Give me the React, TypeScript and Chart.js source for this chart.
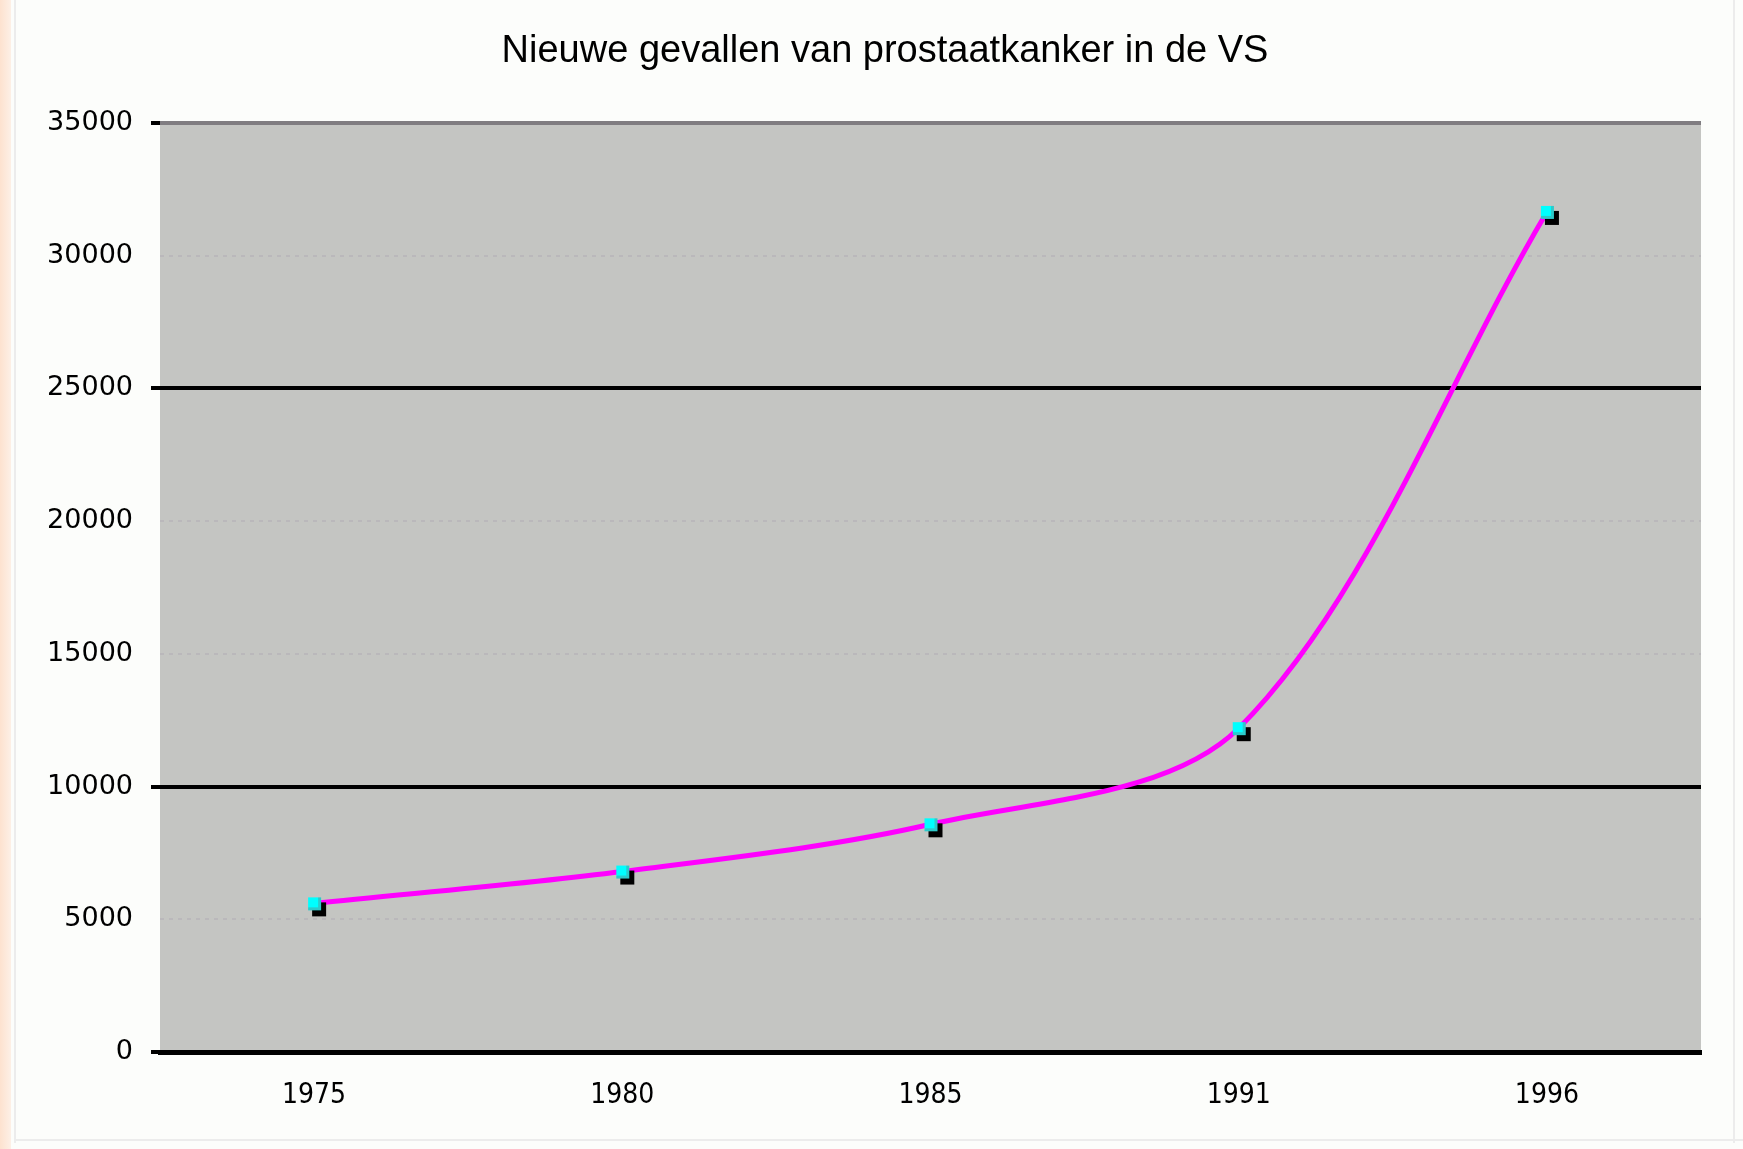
import React, { useEffect, useRef } from "react";
import { Chart, registerables } from "chart.js";

Chart.register(...registerables);

const chartTitle = "Nieuwe gevallen van prostaatkanker in de VS";
const years = ["1975", "1980", "1985", "1991", "1996"];
const newCases = [5600, 6800, 8580, 12200, 31650];
const yMin = 0;
const yMax = 35000;
const yStep = 5000;
const solidGridValues = [25000, 10000, 0];
const topGridValue = 35000;

function makeMarker(): HTMLCanvasElement {
  const c = document.createElement("canvas");
  c.width = 36;
  c.height = 36;
  const g = c.getContext("2d")!;
  g.fillStyle = "#000000";
  g.fillRect(16, 17, 14, 14);
  g.fillStyle = "#2ccaca";
  g.fillRect(12, 12, 13, 13);
  g.fillStyle = "#00ffff";
  g.fillRect(12, 12, 10, 10);
  return c;
}

const backgroundPlugin = {
  id: "bgPlugin",
  beforeDraw(chart: any) {
    const { ctx, chartArea, width, height } = chart;
    ctx.save();
    ctx.fillStyle = "#fcfdfb";
    ctx.fillRect(0, 0, width, height);
    const grad = ctx.createLinearGradient(0, 0, 12, 0);
    grad.addColorStop(0, "#fde2cf");
    grad.addColorStop(1, "#fdf1e8");
    ctx.fillStyle = grad;
    ctx.fillRect(0, 0, 11, height);
    ctx.fillStyle = "#ececec";
    ctx.fillRect(14, 0, 2, height - 6);
    ctx.fillRect(14, height - 10, width - 14, 2);
    ctx.fillRect(width - 10, 0, 2, height - 6);
    ctx.fillStyle = "#c4c5c2";
    ctx.fillRect(chartArea.left, chartArea.top, chartArea.right - chartArea.left, chartArea.bottom - chartArea.top);
    ctx.restore();
  },
  afterDraw(chart: any) {
    const { ctx } = chart;
    ctx.save();
    ctx.fillStyle = "#000000";
    ctx.font = "normal 38px 'Liberation Sans', Arial, sans-serif";
    ctx.textAlign = "center";
    ctx.textBaseline = "middle";
    ctx.fillText(chartTitle, 885, 52);
    ctx.restore();
  },
};

export default function App() {
  const ref = useRef<HTMLCanvasElement | null>(null);

  useEffect(() => {
    document.body.style.margin = "0";
    const canvas = ref.current!;
    const marker = makeMarker();
    const chart = new Chart(canvas, {
      type: "line",
      data: {
        labels: years,
        datasets: [
          {
            data: newCases,
            borderColor: "#ff00ff",
            borderWidth: 5,
            tension: 0.32,
            pointStyle: marker as any,
            pointRadius: 8,
            fill: false,
          },
        ],
      },
      plugins: [backgroundPlugin],
      options: {
        animation: false,
        responsive: false,
        devicePixelRatio: 1,
        events: [],
        layout: { padding: { left: 0, right: 42, top: 123, bottom: 0 } },
        plugins: {
          legend: { display: false },
          tooltip: { enabled: false },
          title: { display: false },
        },
        scales: {
          x: {
            offset: true,
            grid: { display: false, drawTicks: false },
            border: { display: true, color: "#000000", width: 5 },
            ticks: {
              color: "#000000",
              padding: 27,
              font: { family: "'Liberation Sans Narrow', 'DejaVu Sans Condensed', 'Liberation Sans', sans-serif", size: 28 },
              maxRotation: 0,
            },
            afterFit: (s: any) => {
              s.height = 97;
            },
          },
          y: {
            min: yMin,
            max: yMax,
            border: {
              display: false,
              dash: (ctx: any) => {
                const v = ctx.tick ? ctx.tick.value : null;
                if (v === null || solidGridValues.includes(v) || v === topGridValue) return [];
                return [4, 5];
              },
            },
            grid: {
              drawTicks: true,
              tickLength: 9,
              color: (ctx: any) => {
                const v = ctx.tick ? ctx.tick.value : null;
                if (v === topGridValue) return "#807d81";
                if (v !== null && solidGridValues.includes(v)) return "#000000";
                return "#bab8bb";
              },
              lineWidth: (ctx: any) => {
                const v = ctx.tick ? ctx.tick.value : null;
                if (v === topGridValue) return 4;
                if (v !== null && solidGridValues.includes(v)) return 4;
                return 2;
              },
              tickColor: (ctx: any) => {
                const v = ctx.tick ? ctx.tick.value : null;
                if (v === topGridValue || (v !== null && solidGridValues.includes(v))) return "#000000";
                return "rgba(0,0,0,0)";
              },
              tickWidth: 4,
            },
            ticks: {
              stepSize: yStep,
              color: "#000000",
              padding: 18,
              font: { family: "'DejaVu Sans', sans-serif", size: 27 },
              callback: (v: any) => String(v),
            },
            afterFit: (s: any) => {
              s.width = 160;
            },
          },
        },
      },
    });
    return () => chart.destroy();
  }, []);

  return (
    <div style={{ position: "absolute", left: 0, top: 0, width: 1743, height: 1149 }}>
      <canvas ref={ref} width={1743} height={1149} style={{ width: 1743, height: 1149, display: "block" }} />
    </div>
  );
}
